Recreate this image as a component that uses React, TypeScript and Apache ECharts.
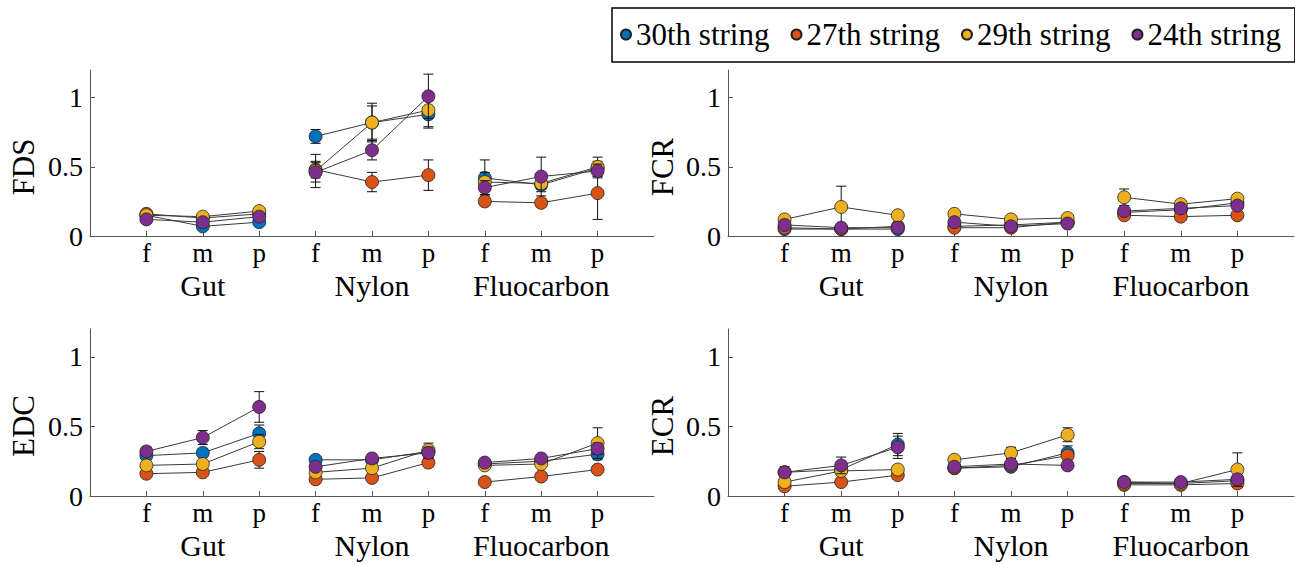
import React, { useEffect, useRef } from 'react';
import * as echarts from 'echarts';

const stringNames = ['30th string', '27th string', '29th string', '24th string'];
const stringColors = ['#0072BD', '#D95319', '#EDB120', '#7E2F8E'];
const techniques = ['f', 'm', 'p'];
const materials = ['Gut', 'Nylon', 'Fluocarbon'];
const yTicks = [0, 0.5, 1];
const xTicks = [1, 2, 3, 4, 5, 6, 7, 8, 9];
const groupTicks = [2, 5, 8];
const panelNames = ['FDS', 'FCR', 'EDC', 'ECR'];

// order of values: Gut f,m,p | Nylon f,m,p | Fluocarbon f,m,p
const fds30 = [0.15, 0.07, 0.10, 0.72, 0.82, 0.88, 0.42, 0.37, 0.49];
const fds27 = [0.16, 0.13, 0.16, 0.48, 0.39, 0.44, 0.25, 0.24, 0.31];
const fds29 = [0.15, 0.14, 0.18, 0.47, 0.82, 0.91, 0.39, 0.38, 0.50];
const fds24 = [0.12, 0.10, 0.14, 0.46, 0.62, 1.01, 0.35, 0.43, 0.47];
const fds30Err = [0.02, 0.02, 0.02, 0.05, 0.12, 0.10, 0.13, 0.05, 0.05];
const fds27Err = [0.02, 0.02, 0.02, 0.06, 0.07, 0.11, 0.03, 0.03, 0.19];
const fds29Err = [0.02, 0.02, 0.02, 0.12, 0.14, 0.12, 0.07, 0.04, 0.07];
const fds24Err = [0.02, 0.02, 0.02, 0.07, 0.07, 0.16, 0.05, 0.14, 0.05];

const fcr30 = [0.05, 0.05, 0.05, 0.07, 0.08, 0.10, 0.17, 0.19, 0.24];
const fcr27 = [0.06, 0.05, 0.07, 0.06, 0.06, 0.10, 0.15, 0.14, 0.15];
const fcr29 = [0.12, 0.21, 0.15, 0.16, 0.12, 0.13, 0.28, 0.23, 0.27];
const fcr24 = [0.08, 0.06, 0.06, 0.10, 0.07, 0.09, 0.18, 0.20, 0.22];
const fcr30Err = [0.02, 0.01, 0.01, 0.02, 0.02, 0.01, 0.02, 0.02, 0.02];
const fcr27Err = [0.02, 0.01, 0.02, 0.02, 0.02, 0.01, 0.02, 0.02, 0.02];
const fcr29Err = [0.02, 0.15, 0.02, 0.02, 0.02, 0.02, 0.06, 0.02, 0.02];
const fcr24Err = [0.02, 0.01, 0.02, 0.02, 0.02, 0.01, 0.02, 0.02, 0.02];

const edc30 = [0.29, 0.31, 0.45, 0.26, 0.26, 0.32, 0.23, 0.25, 0.30];
const edc27 = [0.16, 0.17, 0.26, 0.12, 0.13, 0.24, 0.10, 0.14, 0.19];
const edc29 = [0.22, 0.23, 0.39, 0.17, 0.20, 0.33, 0.22, 0.23, 0.38];
const edc24 = [0.32, 0.42, 0.64, 0.21, 0.27, 0.31, 0.24, 0.27, 0.34];
const edc30Err = [0.03, 0.03, 0.06, 0.02, 0.02, 0.04, 0.02, 0.02, 0.04];
const edc27Err = [0.02, 0.02, 0.06, 0.02, 0.02, 0.03, 0.02, 0.02, 0.02];
const edc29Err = [0.02, 0.02, 0.05, 0.02, 0.02, 0.05, 0.02, 0.02, 0.11];
const edc24Err = [0.03, 0.05, 0.11, 0.02, 0.02, 0.04, 0.02, 0.02, 0.04];

const ecr30 = [0.17, 0.19, 0.37, 0.20, 0.21, 0.31, 0.10, 0.09, 0.11];
const ecr27 = [0.07, 0.10, 0.15, 0.20, 0.22, 0.29, 0.08, 0.08, 0.09];
const ecr29 = [0.10, 0.18, 0.19, 0.26, 0.31, 0.44, 0.09, 0.09, 0.19];
const ecr24 = [0.17, 0.22, 0.35, 0.21, 0.23, 0.22, 0.10, 0.10, 0.12];
const ecr30Err = [0.04, 0.03, 0.08, 0.02, 0.02, 0.05, 0.02, 0.02, 0.03];
const ecr27Err = [0.02, 0.02, 0.03, 0.02, 0.02, 0.03, 0.02, 0.02, 0.03];
const ecr29Err = [0.03, 0.03, 0.03, 0.02, 0.04, 0.05, 0.02, 0.02, 0.12];
const ecr24Err = [0.03, 0.06, 0.08, 0.02, 0.02, 0.02, 0.02, 0.02, 0.03];

const panelValues = [
  [fds30, fds27, fds29, fds24],
  [fcr30, fcr27, fcr29, fcr24],
  [edc30, edc27, edc29, edc24],
  [ecr30, ecr27, ecr29, ecr24],
];
const panelErrors = [
  [fds30Err, fds27Err, fds29Err, fds24Err],
  [fcr30Err, fcr27Err, fcr29Err, fcr24Err],
  [edc30Err, edc27Err, edc29Err, edc24Err],
  [ecr30Err, ecr27Err, ecr29Err, ecr24Err],
];

const FONT = 'Liberation Serif';
const AXIS_COLOR = '#555';

const grids = [
  { left: 90, top: 70, width: 564, height: 166 },
  { left: 728, top: 70, width: 566, height: 166 },
  { left: 90, top: 329, width: 564, height: 167 },
  { left: 728, top: 329, width: 566, height: 167 },
];
const nameSpots = [
  { x: 23, y: 167 },
  { x: 662, y: 167 },
  { x: 23, y: 426 },
  { x: 662, y: 426 },
];

function buildOption() {
  const xAxis: any[] = [];
  const yAxis: any[] = [];
  const series: any[] = [];
  grids.forEach((_, p) => {
    xAxis.push({
      type: 'value', gridIndex: p, min: 0, max: 10,
      axisLine: { show: true, lineStyle: { color: AXIS_COLOR, width: 1 } },
      axisTick: { show: true, inside: true, length: 5, customValues: xTicks, lineStyle: { color: AXIS_COLOR } },
      axisLabel: {
        customValues: xTicks, margin: 5, lineHeight: 24,
        formatter: (v: number) => techniques[(Math.round(v) - 1) % 3],
        fontFamily: FONT, fontSize: 27, color: '#000',
      },
      splitLine: { show: false },
    });
    xAxis.push({
      type: 'value', gridIndex: p, min: 0, max: 10, position: 'bottom', offset: 30,
      axisLine: { show: false }, axisTick: { show: false },
      axisLabel: {
        customValues: groupTicks, margin: 5, lineHeight: 28,
        formatter: (v: number) => materials[Math.round((v - 2) / 3)],
        fontFamily: FONT, fontSize: 30, color: '#000',
      },
      splitLine: { show: false },
    });
    yAxis.push({
      type: 'value', gridIndex: p, min: 0, max: 1.2,
      axisLine: { show: true, lineStyle: { color: AXIS_COLOR, width: 1 } },
      axisTick: { show: true, inside: true, length: 5, customValues: yTicks, lineStyle: { color: AXIS_COLOR } },
      axisLabel: {
        customValues: yTicks, margin: 7,
        formatter: (v: number) => String(v),
        fontFamily: FONT, fontSize: 28, color: '#000',
      },
      splitLine: { show: false },
    });
    stringNames.forEach((name, s) => {
      const vals = panelValues[p][s];
      const errs = panelErrors[p][s];
      series.push({
        type: 'custom', name: 'err-' + name, xAxisIndex: 2 * p, yAxisIndex: p,
        z: 2 + s * 3, silent: true,
        dimensions: ['x', 'y', 'e'],
        encode: { x: 0, y: 1 },
        data: vals.map((v, i) => [i + 1, v, errs[i]]),
        renderItem: (params: any, api: any) => {
          const x = api.value(0);
          const y = api.value(1);
          const e = api.value(2);
          const t = api.coord([x, y + e]);
          const b = api.coord([x, y - e]);
          const w = 5;
          const st = { stroke: '#111', lineWidth: 1 };
          return {
            type: 'group',
            children: [
              { type: 'line', shape: { x1: t[0], y1: t[1], x2: b[0], y2: b[1] }, style: st },
              { type: 'line', shape: { x1: t[0] - w, y1: t[1], x2: t[0] + w, y2: t[1] }, style: st },
              { type: 'line', shape: { x1: b[0] - w, y1: b[1], x2: b[0] + w, y2: b[1] }, style: st },
            ],
          };
        },
      });
      materials.forEach((_, g) => {
        series.push({
          type: 'line', name, xAxisIndex: 2 * p, yAxisIndex: p,
          z: 3 + s * 3, silent: true,
          symbol: 'circle', symbolSize: 13,
          lineStyle: { color: '#3a3a3a', width: 1 },
          itemStyle: { color: stringColors[s], borderColor: '#222', borderWidth: 0.8 },
          emphasis: { disabled: true },
          data: techniques.map((__, k) => [g * 3 + k + 1, vals[g * 3 + k]]),
        });
      });
    });
  });

  return {
    animation: false,
    backgroundColor: '#fff',
    textStyle: { fontFamily: FONT },
    grid: grids,
    xAxis, yAxis, series,
    legend: {
      data: stringNames, left: 612, top: 8, orient: 'horizontal',
      icon: 'circle', itemWidth: 10, itemHeight: 10, itemGap: 21,
      borderColor: '#000', borderWidth: 1.5,
      padding: [11, 14, 12, 8],
      selectedMode: false,
      textStyle: { fontFamily: FONT, fontSize: 31, color: '#000' },
    },
    graphic: panelNames.map((n, i) => ({
      type: 'text', x: nameSpots[i].x, y: nameSpots[i].y, rotation: Math.PI / 2,
      style: { text: n, fontFamily: FONT, fontSize: 31, fill: '#000', align: 'center', verticalAlign: 'middle' },
    })),
  };
}

export default function App() {
  const ref = useRef<HTMLDivElement>(null);
  useEffect(() => {
    if (!ref.current) return;
    const chart = echarts.init(ref.current, undefined, { renderer: 'svg' });
    chart.setOption(buildOption() as any);
    return () => chart.dispose();
  }, []);
  return <div ref={ref} style={{ position: 'absolute', left: 0, top: 0, width: 1295, height: 564 }} />;
}
